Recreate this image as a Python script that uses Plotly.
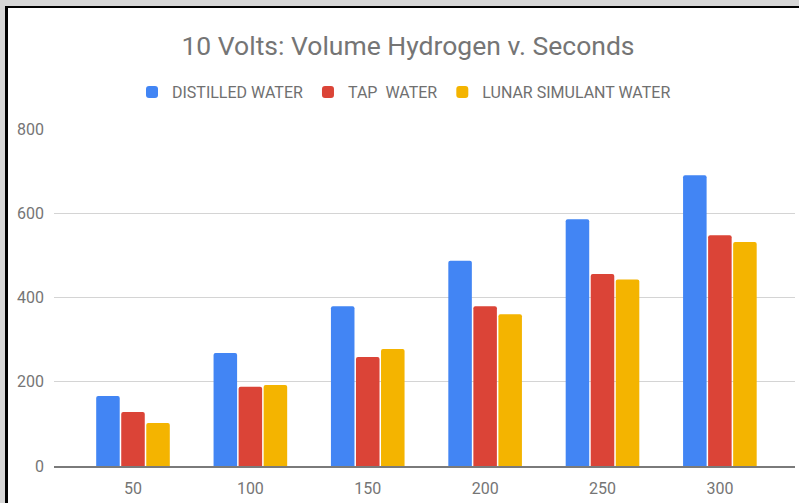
import plotly.graph_objects as go

seconds = ["50", "100", "150", "200", "250", "300"]
distilled = [166, 268, 379, 487, 586, 690]
tap = [128, 188, 259, 379, 456, 548]
lunar = [102, 192, 278, 360, 443, 532]
series_names = ["DISTILLED WATER", "TAP\u00a0 WATER", "LUNAR SIMULANT WATER"]
colors = ["#4285F4", "#DB4437", "#F4B400"]
y_ticks = [0, 200, 400, 600, 800]

W, H = 799, 503
L, R, T, B = 54, 4, 129, 37
pw, ph = W - L - R, H - T - B

def px_x(p):
    return (p - L) / pw

def px_y(p):
    return 1 - (p - T) / ph

fig = go.Figure()
for name, vals, c in zip(series_names, [distilled, tap, lunar], colors):
    fig.add_trace(go.Bar(x=seconds, y=vals, name=name, marker=dict(color=c, line=dict(width=0))))

fig.update_layout(
    width=W, height=H,
    margin=dict(l=L, r=R, t=T, b=B),
    paper_bgcolor="white", plot_bgcolor="white",
    font=dict(family="Roboto", color="#757575", size=16),
    barmode="group", bargap=0.36, bargroupgap=0.06, barcornerradius=2,
    title=dict(text="10 Volts: Volume Hydrogen v. Seconds", x=408 / W, xanchor="center",
               y=1 - 46 / H, yanchor="middle", font=dict(size=26.5, color="#757575")),
    legend=dict(orientation="h", x=px_x(404), xanchor="center", y=px_y(92), yanchor="middle",
                font=dict(size=16, color="#707070"), itemclick=False, traceorder="normal"),
    xaxis=dict(type="category", range=[-0.673, 5.64], showgrid=False, showline=True,
               linecolor="#7a7a7a", linewidth=1.5, ticks="", ticklabelstandoff=7,
               tickfont=dict(size=16, color="#757575"), zeroline=False),
    yaxis=dict(range=[0, 800], tickvals=y_ticks, showgrid=True, gridcolor="#d4d4d4", gridwidth=1,
               zeroline=False, showline=False, ticks="", ticklabelstandoff=9,
               tickfont=dict(size=16, color="#757575")),
    shapes=[
        dict(type="rect", xref="paper", yref="paper", x0=px_x(0), x1=px_x(5), y0=px_y(H), y1=px_y(0),
             fillcolor="#d6d6d6", line=dict(width=0), layer="above"),
        dict(type="rect", xref="paper", yref="paper", x0=px_x(0), x1=px_x(W), y0=px_y(6), y1=px_y(0),
             fillcolor="#d6d6d6", line=dict(width=0), layer="above"),
        dict(type="rect", xref="paper", yref="paper", x0=px_x(5), x1=px_x(8), y0=px_y(H), y1=px_y(6),
             fillcolor="#000000", line=dict(width=0), layer="above"),
        dict(type="rect", xref="paper", yref="paper", x0=px_x(5), x1=px_x(W), y0=px_y(8), y1=px_y(6),
             fillcolor="#000000", line=dict(width=0), layer="above"),
    ],
)

fig.write_html("out.html", config={"displayModeBar": False},
               post_script="document.body.style.margin='0';document.body.style.overflow='hidden';")
